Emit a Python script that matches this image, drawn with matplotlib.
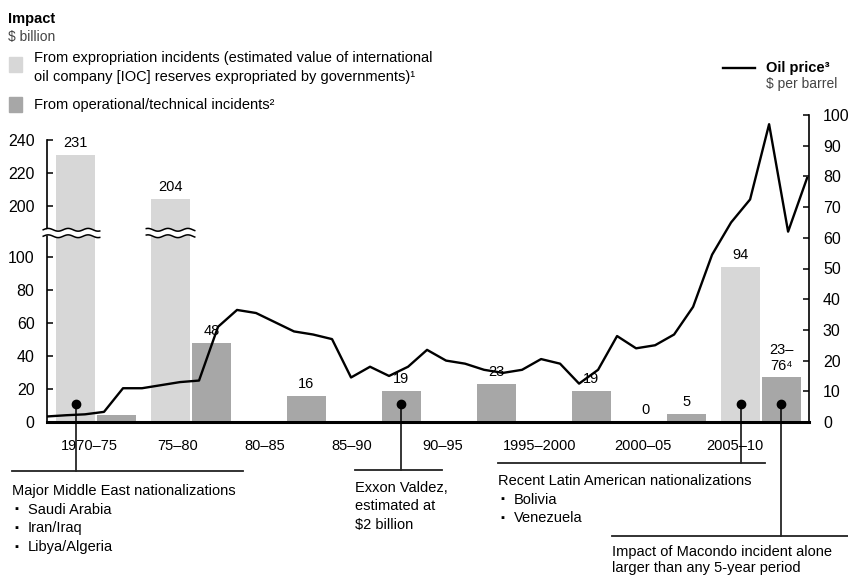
import numpy as np
import matplotlib.pyplot as plt
from matplotlib.lines import Line2D
from matplotlib.patches import Rectangle
from matplotlib.transforms import blended_transform_factory

plt.rcParams['font.family'] = ['Liberation Sans', 'DejaVu Sans']

# ---- data ----
periods = ['1970–75', '75–80', '80–85', '85–90', '90–95', '1995–2000', '2000–05', '2005–10']
period_start = [1970, 1975, 1980, 1985, 1990, 1995, 2000, 2005]
expropriation = [231, 204, 0, 0, 0, 0, 0, 94]
operational = [4, 48, 16, 19, 23, 19, 5, 27]
expropriation_labels = ['231', '204', '', '', '', '', '0', '94']
operational_labels = ['', '48', '16', '19', '23', '19', '5', '23–\n76⁴']

oil_years = list(range(1970, 2011))
oil_price = [1.8, 2.2, 2.5, 3.3, 11.0, 11.0, 12.0, 13.0, 13.5, 31.0,
             36.5, 35.5, 32.5, 29.5, 28.5, 27.0, 14.5, 18.0, 15.0, 18.0,
             23.5, 20.0, 19.0, 17.0, 16.0, 17.0, 20.5, 19.0, 12.5, 17.0,
             28.0, 24.0, 25.0, 28.5, 37.5, 54.5, 65.0, 72.5, 97.0, 62.0,
             79.5]

# ---- layout ----
W, H = 848, 575
LIGHT = '#d7d7d7'
DARK = '#a7a7a7'
light_off, dark_off, bar_w = 1.5, 3.65, 2.05
tick_shift = [2.25, 1.9, 1.45, 1.05, 0.8, 0.95, 1.35, 1.2]

# broken left axis: values between BREAK_LO and BREAK_HI are squeezed out
BREAK_LO, BREAK_HI = 114.5, 183.5
GAP = BREAK_HI - BREAK_LO


def fwd(v):
    v = np.asarray(v, dtype=float)
    return np.where(v <= BREAK_LO, v, np.where(v >= BREAK_HI, v - GAP, BREAK_LO))


def inv(u):
    u = np.asarray(u, dtype=float)
    return np.where(u <= BREAK_LO, u, u + GAP)


def fx(px):
    return px / W


def fy(py):
    return 1 - py / H


fig = plt.figure(figsize=(W / 100, H / 100), dpi=100)
ax = fig.add_axes([fx(47), fy(422), 762 / W, 307 / H])
ax.set_yscale('function', functions=(fwd, inv))
ax.set_xlim(1970, 2010.1)
ax.set_ylim(0, float(inv(186)))

x_light = [s + light_off for s in period_start]
x_dark = [s + dark_off for s in period_start]
ax.bar(x_light, expropriation, width=bar_w, color=LIGHT, zorder=2)
ax.bar(x_dark, operational, width=bar_w, color=DARK, zorder=2)

for x, v, lab in zip(x_light, expropriation, expropriation_labels):
    if lab:
        ax.annotate(lab, (x, v), xytext=(0, 3.5), textcoords='offset points',
                    ha='center', va='bottom', fontsize=10.5)
for x, v, lab in zip(x_dark, operational, operational_labels):
    if lab:
        ax.annotate(lab, (x, v), xytext=(0, 3.5), textcoords='offset points',
                    ha='center', va='bottom', fontsize=10.5, linespacing=1.15)

# axes styling
for s in ['top', 'right']:
    ax.spines[s].set_visible(False)
ax.spines['left'].set_linewidth(1.2)
ax.spines['left'].set_bounds(0, 240)
ax.spines['bottom'].set_linewidth(2.2)
ax.set_yticks([0, 20, 40, 60, 80, 100, 200, 220, 240])
ax.tick_params(axis='y', direction='in', length=4.5, width=1.1, pad=9, labelsize=11.5)
ax.set_xticks([s + d for s, d in zip(period_start, tick_shift)], periods)
ax.tick_params(axis='x', length=0, pad=12, labelsize=10.5)
ax.minorticks_off()

# wavy break marks
brk = blended_transform_factory(ax.transData, ax.transAxes)
yc = BREAK_LO / 186
half = 0.0105
amp = 0.0045


def wave(x0, x1):
    xs = np.linspace(x0, x1, 80)
    w = amp * np.sin(2 * np.pi * xs / 1.05)
    ax.fill_between(xs, yc - half + w, yc + half + w, color='white',
                    transform=brk, clip_on=False, zorder=4, lw=0)
    for off in (-half, half):
        ax.plot(xs, yc + off + w, color='black', lw=1.1, transform=brk,
                clip_on=False, zorder=5)


for x, v in zip(x_light, expropriation):
    if v > BREAK_HI:
        x0 = x - bar_w / 2 - 0.25
        if x0 < 1970.5:
            x0 = 1969.8
        wave(x0, x + bar_w / 2 + 0.25)

# oil price on the right axis
ax2 = ax.twinx()
ax2.plot(oil_years, oil_price, color='black', lw=1.7, zorder=3)
ax2.set_ylim(0, 100)
for s in ['top', 'left', 'bottom']:
    ax2.spines[s].set_visible(False)
ax2.spines['right'].set_linewidth(1.2)
ax2.set_yticks(range(0, 101, 10))
ax2.tick_params(axis='y', direction='in', length=4.5, width=1.1, pad=10, labelsize=11.5)

# ---- legends ----
fig.text(fx(8), fy(19), 'Impact', fontsize=10.5, fontweight='bold', va='center')
fig.text(fx(8), fy(37), '$ billion', fontsize=10, color='#444444', va='center')
fig.add_artist(Rectangle((fx(9), fy(72)), 13 / W, 15 / H, color=LIGHT,
                         transform=fig.transFigure))
fig.text(fx(34), fy(58), 'From expropriation incidents (estimated value of international',
         fontsize=10.5, va='center')
fig.text(fx(34), fy(77), 'oil company [IOC] reserves expropriated by governments)¹',
         fontsize=10.5, va='center')
fig.add_artist(Rectangle((fx(9), fy(112)), 13 / W, 15 / H, color=DARK,
                         transform=fig.transFigure))
fig.text(fx(34), fy(105), 'From operational/technical incidents²', fontsize=10.5, va='center')

fig.add_artist(Line2D([fx(723), fx(755)], [fy(68), fy(68)], color='black', lw=1.7,
                      transform=fig.transFigure))
fig.text(fx(766), fy(68), 'Oil price³', fontsize=10.5, fontweight='bold', va='center')
fig.text(fx(766), fy(84), '$ per barrel', fontsize=10, color='#444444', va='center')

# ---- callouts ----
DOT_Y = 11
ax.figure.canvas.draw()


def callout(x, line_y, x0, x1, lines, text_x, first_y, step=18.5):
    ax.plot([x], [DOT_Y], 'o', color='black', ms=6, zorder=6)
    dx, dy = ax.transData.transform((x, DOT_Y))
    xf, yf = fig.transFigure.inverted().transform((dx, dy))
    fig.add_artist(Line2D([xf, xf], [yf, fy(line_y)], color='black', lw=1.1,
                          transform=fig.transFigure))
    fig.add_artist(Line2D([fx(x0), fx(x1)], [fy(line_y), fy(line_y)], color='#222222',
                          lw=1.3, transform=fig.transFigure))
    for k, t in enumerate(lines):
        yy = fy(first_y + k * step)
        if t.startswith('•'):
            fig.text(fx(text_x + 2), yy, '▪', fontsize=8, va='center')
            fig.text(fx(text_x + 16), yy, t[1:].strip(), fontsize=10.5, va='center')
        else:
            fig.text(fx(text_x), yy, t, fontsize=10.5, va='center')


callout(x_light[0], 471, 12, 243,
        ['Major Middle East nationalizations', '• Saudi Arabia', '• Iran/Iraq',
         '• Libya/Algeria'], 12, 491)
callout(x_dark[3], 470, 355, 442,
        ['Exxon Valdez,', 'estimated at', '$2 billion'], 355, 488)
callout(x_light[7], 463, 498, 765,
        ['Recent Latin American nationalizations', '• Bolivia', '• Venezuela'], 498, 481)
callout(x_dark[7], 536, 612, 848,
        ['Impact of Macondo incident alone', 'larger than any 5-year period'], 612, 552,
        step=16)

fig.savefig('out.png', dpi=100)
